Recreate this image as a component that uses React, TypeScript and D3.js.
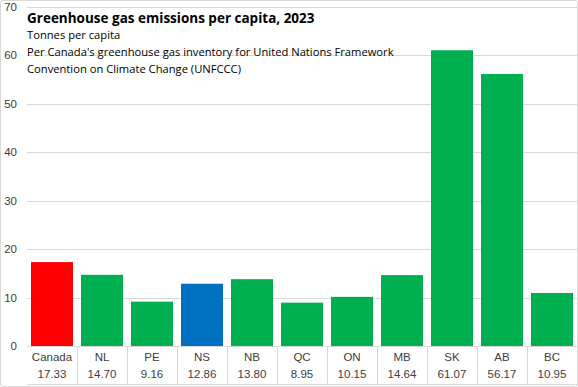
import React from "react";
import * as d3 from "d3";

const categories = ["Canada", "NL", "PE", "NS", "NB", "QC", "ON", "MB", "SK", "AB", "BC"];
const values = [17.33, 14.7, 9.16, 12.86, 13.8, 8.95, 10.15, 14.64, 61.07, 56.17, 10.95];
const valueLabels = ["17.33", "14.70", "9.16", "12.86", "13.80", "8.95", "10.15", "14.64", "61.07", "56.17", "10.95"];
const yTicks = [0, 10, 20, 30, 40, 50, 60, 70];
const title = "Greenhouse gas emissions per capita, 2023";
const subtitles = [
  "Tonnes per capita",
  "Per Canada's greenhouse gas inventory for United Nations Framework",
  "Convention on Climate Change (UNFCCC)",
];

const colorFor = (c: string) => (c === "Canada" ? "#FF0000" : c === "NS" ? "#0070C0" : "#00B050");

export default function App() {
  const W = 578, H = 387;
  const left = 27, right = 577, top = 7, bottom = 346;
  const x = d3.scaleBand().domain(categories).range([left, right]).paddingInner(0.16).paddingOuter(0.08);
  const cell = d3.scaleBand().domain(categories).range([left, right]);
  const y = d3.scaleLinear().domain([0, 70]).range([bottom, top]);
  const tableBottom = 384.5;
  const tickFont = "'Liberation Sans', Arial, sans-serif";
  const titleFont = "'Open Sans', sans-serif";
  return (
    <svg width={W} height={H} style={{ position: "absolute", left: 0, top: 0 }}>
      <rect x={0} y={0} width={W} height={H} fill="#fff" />
      {yTicks.map((t) => (
        <g key={t}>
          {t > 0 && (
            <line x1={left} x2={right} y1={Math.round(y(t)) + 0.5} y2={Math.round(y(t)) + 0.5} stroke="#d9d9d9" strokeWidth={1} />
          )}
          <text x={17} y={y(t)} dy="0.35em" textAnchor="end" fontFamily={tickFont} fontSize={11.5} fill="#404040">
            {t}
          </text>
        </g>
      ))}
      {categories.map((c, i) => (
        <rect key={c} x={x(c)} y={y(values[i])} width={x.bandwidth()} height={bottom - y(values[i])} fill={colorFor(c)} />
      ))}
      <line x1={left} x2={right} y1={bottom + 0.5} y2={bottom + 0.5} stroke="#d9d9d9" />
      <line x1={left} x2={right} y1={tableBottom} y2={tableBottom} stroke="#d9d9d9" />
      {categories.map((c, i) => (
        <g key={c}>
          {i > 0 && (
            <line x1={Math.round(cell(c)!) + 0.5} x2={Math.round(cell(c)!) + 0.5} y1={bottom} y2={tableBottom} stroke="#d9d9d9" />
          )}
          <text x={cell(c)! + cell.bandwidth() / 2} y={357} dy="0.35em" textAnchor="middle" fontFamily={tickFont} fontSize={11.5} fill="#404040">
            {c}
          </text>
          <text x={cell(c)! + cell.bandwidth() / 2} y={374} dy="0.35em" textAnchor="middle" fontFamily={tickFont} fontSize={11.5} fill="#404040">
            {valueLabels[i]}
          </text>
        </g>
      ))}
      <text x={27} y={23} fontFamily={titleFont} fontWeight={700} fontSize={13.5} fill="#000">
        {title}
      </text>
      {subtitles.map((s, i) => (
        <text key={i} x={27} y={39 + i * 17} fontFamily={titleFont} fontSize={11.2} fill="#000">
          {s}
        </text>
      ))}
      <rect x={0.5} y={0.5} width={W - 1} height={H - 1} fill="none" stroke="#d9d9d9" rx={2} />
    </svg>
  );
}
